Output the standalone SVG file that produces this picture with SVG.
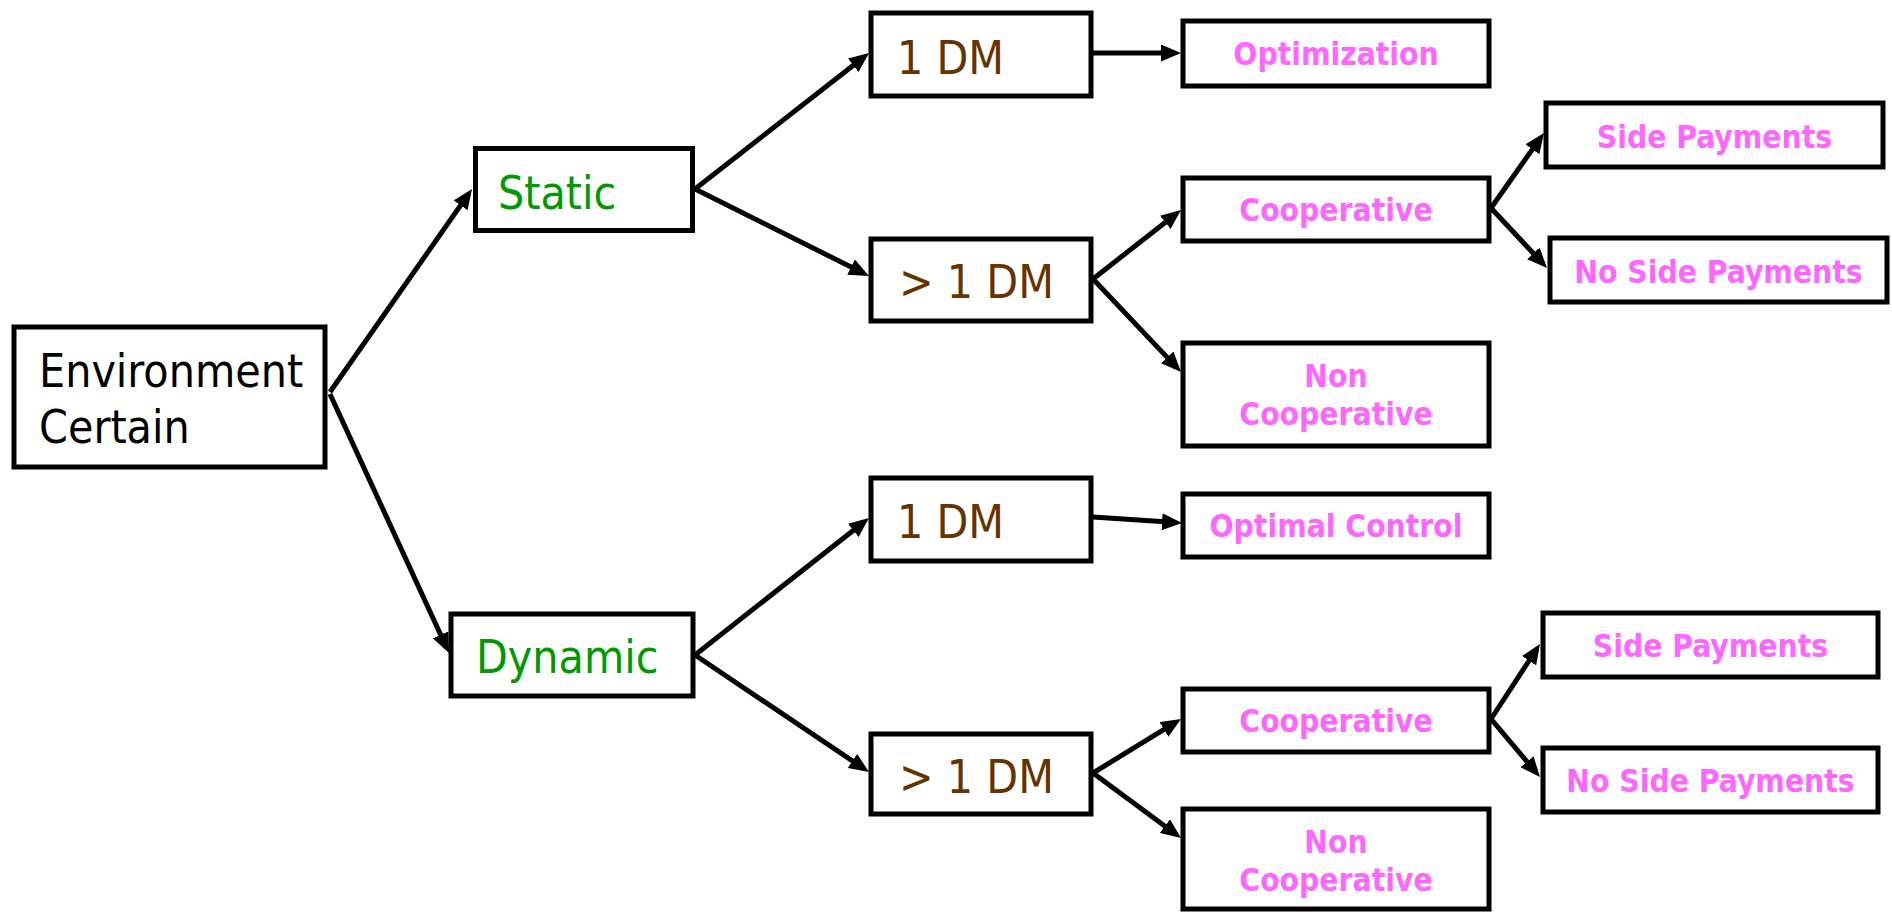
<svg xmlns="http://www.w3.org/2000/svg" width="1892" height="912" viewBox="0 0 1892 912">
<defs>
<style>
.box{fill:#fff;stroke:#000;stroke-width:5}
.ln{fill:none;stroke:#000;stroke-width:5;marker-end:url(#ah)}
.reg{font-family:"DejaVu Sans Condensed","Liberation Sans",sans-serif;font-size:46px}
.blk{fill:#000}
.grn{fill:#009900}
.brn{fill:#663300}
.pnk{font-family:"DejaVu Sans Condensed","Liberation Sans",sans-serif;font-size:31.5px;font-weight:bold;fill:#ff66ff;text-anchor:middle}
</style>
<marker id="ah" markerUnits="userSpaceOnUse" markerWidth="20" markerHeight="17" viewBox="0 0 20 17" refX="14" refY="8.5" orient="auto">
<path d="M0,0 L20,8.5 L0,17 z" fill="#000"/>
</marker>
</defs>
<rect width="1892" height="912" fill="#fff"/>
<g id="connectors">
<line class="ln" x1="330" y1="392" x2="468.6" y2="193.9"/>
<line class="ln" x1="330" y1="394" x2="446.5" y2="647.5"/>
<line class="ln" x1="695" y1="189" x2="864.3" y2="56.7"/>
<line class="ln" x1="695" y1="189" x2="863.6" y2="273.3"/>
<line class="ln" x1="1093" y1="53" x2="1175" y2="53"/>
<line class="ln" x1="1093" y1="279" x2="1176.3" y2="213.7"/>
<line class="ln" x1="1093" y1="279" x2="1176.9" y2="367.6"/>
<line class="ln" x1="1491" y1="208" x2="1540.5" y2="137.9"/>
<line class="ln" x1="1491" y1="208" x2="1542.9" y2="263.6"/>
<line class="ln" x1="695" y1="655" x2="864.3" y2="521.7"/>
<line class="ln" x1="695" y1="655" x2="864" y2="768.7"/>
<line class="ln" x1="1093" y1="517" x2="1176" y2="522.6"/>
<line class="ln" x1="1093" y1="773" x2="1175.9" y2="722.1"/>
<line class="ln" x1="1093" y1="773" x2="1176.2" y2="834.4"/>
<line class="ln" x1="1491" y1="719" x2="1536.7" y2="649"/>
<line class="ln" x1="1491" y1="719" x2="1536.1" y2="772.4"/>
</g>
<g id="env"><rect class="box" x="14" y="327" width="311" height="140"/><text class="reg blk" x="39" y="387">Environment</text><text class="reg blk" x="39" y="443">Certain</text></g>
<g id="static"><rect class="box" x="475.5" y="148.5" width="217" height="82"/><text class="reg grn" x="498" y="209">Static</text></g>
<g id="s-1dm"><rect class="box" x="871" y="13" width="220" height="83"/><text class="reg brn" x="897" y="74">1 DM</text></g>
<g id="s-ndm"><rect class="box" x="871" y="239" width="220" height="82"/><text class="reg brn" x="899" y="298">&gt; 1 DM</text></g>
<g id="optimization"><rect class="box" x="1183" y="21" width="306" height="65"/><text class="pnk" x="1336" y="65">Optimization</text></g>
<g id="s-coop"><rect class="box" x="1183" y="178" width="306" height="63"/><text class="pnk" x="1336" y="221">Cooperative</text></g>
<g id="s-noncoop"><rect class="box" x="1183" y="343" width="306" height="103"/><text class="pnk" x="1336" y="387">Non</text><text class="pnk" x="1336" y="425">Cooperative</text></g>
<g id="s-side"><rect class="box" x="1546" y="103" width="337" height="64"/><text class="pnk" x="1714.5" y="148">Side Payments</text></g>
<g id="s-noside"><rect class="box" x="1550" y="238" width="337" height="64"/><text class="pnk" x="1718.5" y="283">No Side Payments</text></g>
<g id="dynamic"><rect class="box" x="451" y="614" width="242" height="82"/><text class="reg grn" x="476" y="673">Dynamic</text></g>
<g id="d-1dm"><rect class="box" x="871" y="478" width="220" height="83"/><text class="reg brn" x="897" y="538">1 DM</text></g>
<g id="d-ndm"><rect class="box" x="871" y="734" width="220" height="80"/><text class="reg brn" x="899" y="793">&gt; 1 DM</text></g>
<g id="optcontrol"><rect class="box" x="1183" y="494" width="306" height="63"/><text class="pnk" x="1336" y="537">Optimal Control</text></g>
<g id="d-coop"><rect class="box" x="1183" y="689" width="306" height="63"/><text class="pnk" x="1336" y="732">Cooperative</text></g>
<g id="d-noncoop"><rect class="box" x="1183" y="809" width="306" height="100"/><text class="pnk" x="1336" y="853">Non</text><text class="pnk" x="1336" y="891">Cooperative</text></g>
<g id="d-side"><rect class="box" x="1543" y="613" width="335" height="64"/><text class="pnk" x="1710.5" y="657">Side Payments</text></g>
<g id="d-noside"><rect class="box" x="1543" y="748" width="335" height="64"/><text class="pnk" x="1710.5" y="792">No Side Payments</text></g>
</svg>
